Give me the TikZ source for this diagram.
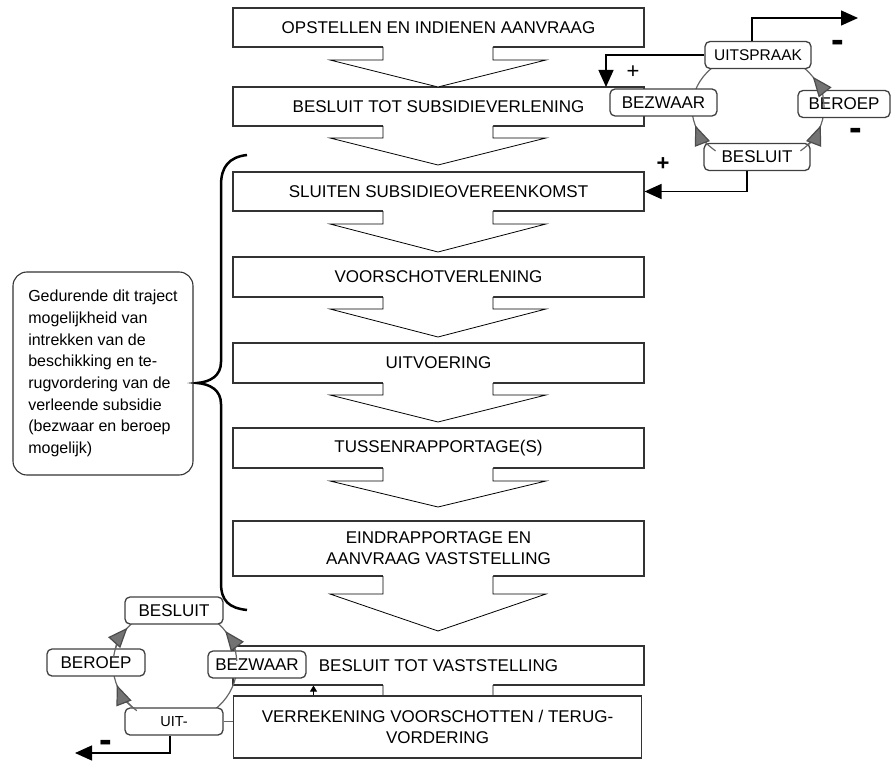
\documentclass[tikz,border=0pt]{standalone}
\usepackage{fontspec}
\setmainfont{Liberation Sans}
\usetikzlibrary{arrows.meta}

\begin{document}
\begin{tikzpicture}[x=1pt, y=-1pt,
    stap/.style={draw=black!80, line width=1.1pt, fill=white, minimum width=411pt,
      minimum height=39pt, inner sep=0pt, align=center, font=\fontsize{17}{21}\selectfont},
    fase/.style={draw=black!75, line width=1.3pt, rounded corners=5pt, fill=white,
      inner sep=0pt, minimum height=27pt, font=\fontsize{17}{20}\selectfont},
    ring/.style={draw=black!60, line width=1.2pt},
    ringpijl/.style={ring, -{Triangle[length=20pt, width=16pt, fill=black!55, color=black!70]}},
    pijl/.style={line width=1.4pt, -{Triangle[length=17pt, width=15pt]}},
    teken/.style={inner sep=0pt, font=\bfseries\fontsize{22}{22}\selectfont},
    minteken/.style={inner sep=0pt, font=\bfseries\fontsize{38}{38}\selectfont}]

        \useasboundingbox (0,0) rectangle (891,762);

        % 1) The steps of the procedure, top to bottom
        \node[stap] (b1) at (438.5,27.5) {OPSTELLEN EN INDIENEN AANVRAAG};
        \node[stap] (b2) at (438.5,106.5) {BESLUIT TOT SUBSIDIEVERLENING};
        \node[stap] (b3) at (438.5,191.5) {SLUITEN SUBSIDIEOVEREENKOMST};
        \node[stap, minimum height=40pt] (b4) at (438.5,277) {VOORSCHOTVERLENING};
        \node[stap, minimum height=40pt] (b5) at (438.5,363) {UITVOERING};
        \node[stap, minimum height=40pt] (b6) at (438.5,448) {TUSSENRAPPORTAGE(S)};
        \node[stap, minimum height=55pt] (b7) at (438.5,548.5) {EINDRAPPORTAGE EN\\AANVRAAG VASTSTELLING};
        \node[stap] (b8) at (438.5,665.5) {BESLUIT TOT VASTSTELLING};

        % 2) Block arrows under each step
        \foreach \b/\w/\t in {47/60/87, 126/138/165, 211/224/252, 297/309/337,
                              383/395/422, 468/481/507, 576/594/631, 685/700/720} {
          \fill[white] (383,\b-1.5) -- (383,\w) -- (330,\w) -- (438,\t) -- (546,\w)
                       -- (493,\w) -- (493,\b-1.5) -- cycle;
          \draw[line width=0.8pt] (383,\b) -- (383,\w) -- (330,\w) -- (438,\t)
                       -- (546,\w) -- (493,\w) -- (493,\b);
        }

        % 3) Last step lies over the arrow of the one before
        \node[stap, minimum width=408pt, minimum height=62pt] (b9) at (437.5,727)
              {VERREKENING VOORSCHOTTEN / TERUG-\\VORDERING};
        \draw[line width=1pt, -{Triangle[length=6pt, width=7pt]}]
              ([xshift=-124pt]b9.north) -- ([xshift=-125pt]b8.south);

        % 4) Brace and note on the left
        \draw[line width=2.5pt] (247,155) .. controls (229,157) and (221,167) .. (221,185)
              -- (221,362) .. controls (221,376) and (210,382) .. (197,383)
              .. controls (210,384) and (221,390) .. (221,404)
              -- (221,583) .. controls (221,601) and (229,608) .. (247,610);
        \node[draw=black!80, line width=1.1pt, rounded corners=14pt, minimum width=180pt,
              minimum height=203pt, align=left, font=\fontsize{16}{21.7}\selectfont]
              (noot) at (103,373.5) {Gedurende dit traject\\mogelijkheid van\\intrekken van de\\beschikking en te-\\rugvordering van de\\verleende subsidie\\(bezwaar en beroep\\mogelijk)};

        % 5) Objection and appeal cycle, top right
        \draw[ring] (758,108) ellipse[x radius=66, y radius=56];
        \node[fase, minimum width=106pt, font=\fontsize{15.5}{18}\selectfont] (uits) at (758,55) {UITSPRAAK};
        \node[fase, minimum width=107pt] (bezr) at (663.5,102.5) {BEZWAAR};
        \node[fase, minimum width=92pt] (beror) at (844,104) {BEROEP};
        \node[fase, minimum width=106pt] (besr) at (757,157) {BESLUIT};
        \draw[ringpijl] ([shift={(758,108)}]130:66 and 56) arc[start angle=130, end angle=162, x radius=66, y radius=56];
        \draw[ringpijl] ([shift={(758,108)}]50:66 and 56) arc[start angle=50, end angle=18, x radius=66, y radius=56];
        \draw[ringpijl] ([shift={(758,108)}]0:66 and 56) arc[start angle=360, end angle=326, x radius=66, y radius=56];

        \coordinate (uit1) at (858,18);
        \coordinate (terug2) at (606,87);
        \draw[pijl] ([xshift=-6pt]uits.north) |- (uit1);
        \draw[pijl] (uits.west) -| (terug2);
        \draw[pijl] ([xshift=-10pt]besr.south) |- (b3.east);
        \node[minteken] (min1) at (838,46) {-};
        \node[minteken] (min2) at (856,134) {-};
        \node[inner sep=0pt, font=\fontsize{22}{22}\selectfont] (plus1) at (633,72) {+};
        \node[teken] (plus2) at (663,164) {+};

        % 6) Same cycle at the bottom left
        \draw[ring] (175,665) ellipse[x radius=62, y radius=58];
        \node[fase, minimum width=98pt] (besl) at (174,610.5) {BESLUIT};
        \node[fase, minimum width=98pt] (berol) at (96,662.5) {BEROEP};
        \node[fase, minimum width=98pt] (bezl) at (257,664.5) {BEZWAAR};
        \node[fase, minimum width=98pt, font=\fontsize{14.5}{18}\selectfont] (uitl) at (174,721.5) {UIT-};
        \draw[ringpijl] ([shift={(175,665)}]188:62 and 58) arc[start angle=188, end angle=220, x radius=62, y radius=58];
        \draw[ringpijl] ([shift={(175,665)}]356:62 and 58) arc[start angle=356, end angle=324, x radius=62, y radius=58];
        \draw[ringpijl] ([shift={(175,665)}]128:62 and 58) arc[start angle=128, end angle=160, x radius=62, y radius=58];

        \coordinate (uit2) at (75,753);
        \draw[pijl] ([xshift=-4pt]uitl.south) |- (uit2);
        \draw[ring] (uitl.east) -- (uitl.east -| b9.west);
        \node[minteken] (min3) at (106,746) {-};

\end{tikzpicture}
\end{document}
